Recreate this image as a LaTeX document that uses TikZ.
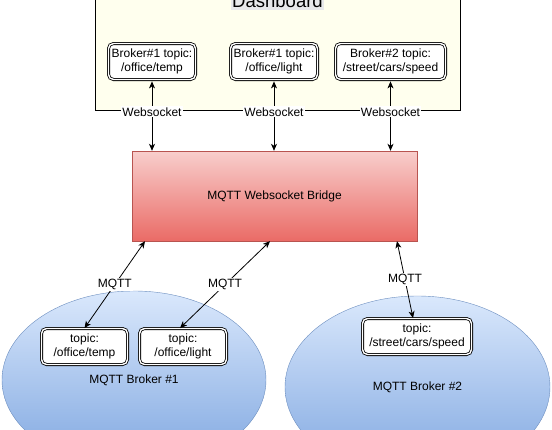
\documentclass[tikz,border=0pt]{standalone}
\usepackage{fontspec}
\setmainfont{Liberation Sans}
\usetikzlibrary{arrows.meta,positioning,shapes.geometric}
\definecolor{dashfill}{HTML}{FFFFEE}
\definecolor{titlebg}{HTML}{E8E9EB}
\definecolor{bridgetop}{HTML}{F8CECC}
\definecolor{bridgebot}{HTML}{EA6B66}
\definecolor{bridgeline}{HTML}{B85450}
\definecolor{brokertop}{HTML}{DAE8FC}
\definecolor{brokerbot}{HTML}{7EA6E0}
\definecolor{brokerline}{HTML}{6C8EBF}

\begin{document}
\begin{tikzpicture}[
  x=1pt,y=-1pt,
  font=\fontsize{12}{14}\selectfont,
  dashbox/.style={draw,line width=0.8pt,fill=dashfill},
  dashtitle/.style={fill=titlebg,inner xsep=1pt,inner ysep=2.5pt,font=\fontsize{18.5}{20}\selectfont},
  topic/.style={draw,double,double distance=1.4pt,line width=0.8pt,rounded corners=5pt,fill=white,align=center,minimum height=36pt,inner sep=1pt},
  bridgebox/.style={draw=bridgeline,top color=bridgetop,bottom color=bridgebot,minimum width=285pt,minimum height=90pt},
  broker/.style={ellipse,draw=brokerline,top color=brokertop,bottom color=brokerbot,minimum width=264pt,inner sep=0pt},
  link/.style={{Stealth[length=7pt,width=6pt,inset=2pt]}-{Stealth[length=7pt,width=6pt,inset=2pt]},line width=0.8pt},
  lbl/.style={fill=white,inner sep=1pt}
]
\useasboundingbox (0,0) rectangle (552,429);
\clip (0,0) rectangle (552,429);

% dashboard container, its top runs off the page
\node[dashbox,minimum width=365pt,minimum height=150pt] (dash) at (277.5,35) {};
\node[dashtitle,anchor=base] (dtitle) at (277.5,7) {Dashboard};

% dashboard topics
\node[topic,minimum width=87pt]  (d1) at (152,61.5)   {Broker\#1 topic:\\/office/temp};
\node[topic,minimum width=87pt]  (d2) at (274,61.5)   {Broker\#1 topic:\\/office/light};
\node[topic,minimum width=110pt] (d3) at (390.5,61.5) {Broker\#2 topic:\\/street/cars/speed};

% bridge
\node[bridgebox] (bridge) at (274.5,196) {MQTT Websocket Bridge};

% brokers
\node[broker,minimum height=178pt]   (br1) at (134,380)   {MQTT Broker \#1};
\node[broker,minimum width=265pt,minimum height=182pt] (br2) at (417.5,387) {MQTT Broker \#2};

% broker topics
\node[topic,minimum width=86pt]  (b1) at (84.5,346.5) {topic:\\/office/temp};
\node[topic,minimum width=87pt]  (b2) at (183,346.5)  {topic:\\/office/light};
\node[topic,minimum width=109pt] (b3) at (417,336.5)  {topic:\\/street/cars/speed};

% websocket links
\foreach \t in {d1,d2,d3}
  \draw[link,shorten <=1.5pt] (\t.south) -- (\t.south |- bridge.north) node[pos=.45,lbl]{Websocket};

% mqtt links
\draw[link] ([xshift=-129.5pt]bridge.south) -- (b1.north) node[midway,lbl]{MQTT};
\draw[link] ([xshift=-4.5pt]bridge.south) -- ([xshift=-3pt]b2.north) node[midway,lbl]{MQTT};
\draw[link] ([xshift=122.5pt]bridge.south) -- ([xshift=-4pt]b3.north) node[midway,lbl]{MQTT};
\end{tikzpicture}
\end{document}
